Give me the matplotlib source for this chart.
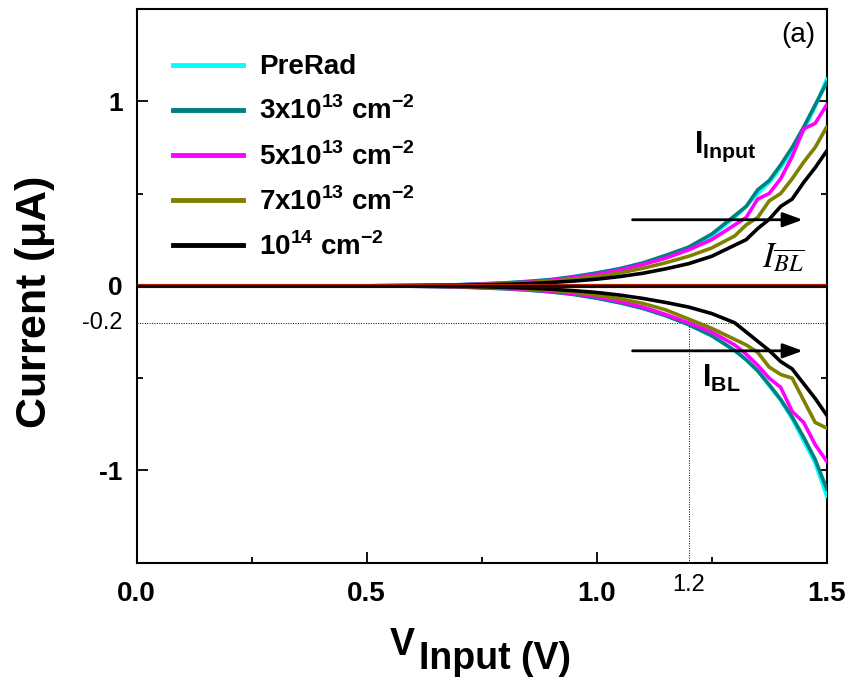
import matplotlib
matplotlib.use("Agg")
import matplotlib.pyplot as plt
from matplotlib.ticker import MultipleLocator

V = [0.0, 0.5, 0.6, 0.7, 0.75, 0.8, 0.85, 0.9, 0.95, 1.0, 1.05, 1.1, 1.15, 1.2,
     1.25, 1.3, 1.325, 1.35, 1.375, 1.4, 1.425, 1.45, 1.475, 1.5]

labels = ["PreRad", r"3x10$^{\mathbf{13}}$ cm$^{\mathbf{-2}}$", r"5x10$^{\mathbf{13}}$ cm$^{\mathbf{-2}}$",
          r"7x10$^{\mathbf{13}}$ cm$^{\mathbf{-2}}$", r"10$^{\mathbf{14}}$ cm$^{\mathbf{-2}}$"]
colors = ["#00ffff", "#008080", "#ff00ff", "#808000", "#000000"]

xticks = [0.0, 0.5, 1.0, 1.5]
xtick_labels = ['0.0', '0.5', '1.0', '1.5']
yticks = [-1, 0, 1]
ytick_labels = ['-1', '0', '1']

# I_Input (positive branch)
in_prerad = [0, 0, 0.002, 0.006, 0.010, 0.015, 0.022, 0.032, 0.048, 0.068, 0.090, 0.120, 0.160, 0.205,
             0.27, 0.37, 0.43, 0.50, 0.56, 0.64, 0.73, 0.84, 0.97, 1.12]
in_3e13 = [0, 0, 0.002, 0.006, 0.011, 0.016, 0.024, 0.034, 0.050, 0.070, 0.093, 0.124, 0.165, 0.21,
           0.28, 0.38, 0.43, 0.52, 0.57, 0.655, 0.75, 0.86, 0.98, 1.10]
in_5e13 = [0, 0, 0.002, 0.005, 0.009, 0.014, 0.020, 0.030, 0.044, 0.062, 0.085, 0.115, 0.150, 0.195,
           0.25, 0.33, 0.37, 0.47, 0.50, 0.58, 0.70, 0.85, 0.88, 0.98]
in_7e13 = [0, 0, 0.001, 0.004, 0.007, 0.011, 0.017, 0.025, 0.036, 0.050, 0.070, 0.095, 0.125, 0.16,
           0.205, 0.27, 0.33, 0.37, 0.46, 0.50, 0.58, 0.67, 0.75, 0.86]
in_1e14 = [0, 0, 0.001, 0.003, 0.005, 0.008, 0.012, 0.018, 0.026, 0.036, 0.050, 0.068, 0.092, 0.12,
           0.16, 0.22, 0.25, 0.31, 0.36, 0.43, 0.47, 0.56, 0.64, 0.73]

# I_BL (negative branch)
bl_prerad = [0, 0, -0.002, -0.006, -0.010, -0.015, -0.022, -0.032, -0.045, -0.065, -0.090, -0.120, -0.160, -0.21,
             -0.27, -0.35, -0.40, -0.46, -0.54, -0.62, -0.72, -0.84, -0.96, -1.14]
bl_3e13 = [0, 0, -0.002, -0.006, -0.011, -0.016, -0.023, -0.033, -0.047, -0.067, -0.092, -0.122, -0.162, -0.21,
           -0.27, -0.35, -0.40, -0.46, -0.535, -0.615, -0.71, -0.82, -0.94, -1.10]
bl_5e13 = [0, 0, -0.002, -0.005, -0.009, -0.014, -0.020, -0.030, -0.043, -0.060, -0.085, -0.115, -0.155, -0.20,
           -0.25, -0.32, -0.37, -0.43, -0.50, -0.55, -0.68, -0.74, -0.86, -0.95]
bl_7e13 = [0, 0, -0.001, -0.004, -0.007, -0.011, -0.016, -0.024, -0.035, -0.050, -0.070, -0.095, -0.130, -0.18,
           -0.23, -0.29, -0.32, -0.36, -0.44, -0.48, -0.50, -0.62, -0.74, -0.77]
bl_1e14 = [0, 0, -0.001, -0.003, -0.005, -0.008, -0.012, -0.018, -0.026, -0.036, -0.050, -0.068, -0.090, -0.115,
           -0.15, -0.20, -0.25, -0.30, -0.35, -0.41, -0.45, -0.53, -0.61, -0.70]

ibl_bar = [0.0] * len(V)

inputs = [in_prerad, in_3e13, in_5e13, in_7e13, in_1e14]
bls = [bl_prerad, bl_3e13, bl_5e13, bl_7e13, bl_1e14]

plt.rcParams['font.family'] = ['Liberation Sans', 'DejaVu Sans']
plt.rcParams['mathtext.fontset'] = 'custom'
plt.rcParams['mathtext.rm'] = 'Liberation Sans:bold'
plt.rcParams['mathtext.bf'] = 'Liberation Sans:bold'

fig = plt.figure(figsize=(8.54, 6.83), dpi=100)
ax = fig.add_axes([0.160, 0.176, 0.808, 0.811])

for y_in, y_bl, c, lab in zip(inputs, bls, colors, labels):
    ax.plot(V, y_in, color=c, lw=2.6, label=lab, zorder=3)
    ax.plot(V, y_bl, color=c, lw=2.6, zorder=3)

ax.plot(V, ibl_bar, color="#b02000", lw=3.0, zorder=4)
ax.plot(V, ibl_bar, color="#1a0500", lw=2.0, zorder=5)

# dotted guides
ax.plot([0, 1.5], [-0.2, -0.2], color='black', lw=0.7, ls=(0, (1, 1.5)), zorder=2)
ax.plot([1.2, 1.2], [-1.5, -0.2], color='black', lw=0.7, ls=(0, (1, 1.5)), zorder=2)

ax.set_xlim(0, 1.5)
ax.set_ylim(-1.5, 1.5)

ax.set_xticks(xticks)
ax.set_xticklabels(xtick_labels, fontsize=20, fontweight='bold')
ax.set_yticks(yticks)
ax.set_yticklabels(ytick_labels, fontsize=19, fontweight='bold')
ax.xaxis.set_minor_locator(MultipleLocator(0.25))
ax.yaxis.set_minor_locator(MultipleLocator(0.5))
ax.tick_params(which='both', direction='in', right=True, top=False, width=1.3)
ax.tick_params(which='major', length=8)
ax.tick_params(which='minor', length=4)
ax.tick_params(axis='x', which='major', pad=13)
ax.tick_params(axis='y', which='major', pad=10)
for s in ax.spines.values():
    s.set_linewidth(1.5)

ax.text(-0.021, -0.2, '-0.2', transform=ax.get_yaxis_transform(), ha='right', va='center', fontsize=17)
ax.text(1.2 - 0.035, -0.02, '1.2', transform=ax.get_xaxis_transform(), ha='left', va='top', fontsize=17)

ax.set_ylabel(r'Current ($\mathbf{\mu}$A)', fontsize=31, fontweight='bold')
ax.yaxis.set_label_coords(-0.115, 0.47)

# x label: "V" with same-size lowered "Input", then "(V)"
fig.text(390 / 854, 1 - 655 / 683, 'V', fontsize=27, fontweight='bold', ha='left', va='baseline')
fig.text(419 / 854, 1 - 669 / 683, 'Input (V)', fontsize=27, fontweight='bold', ha='left', va='baseline')

# arrows
arrow_style = '-|>,head_length=0.6,head_width=0.22'
ax.annotate('', xy=(1.448, 0.358), xytext=(1.078, 0.358),
            arrowprops=dict(arrowstyle=arrow_style, color='black', lw=2.0, mutation_scale=20,
                            shrinkA=0, shrinkB=0), zorder=6)
ax.annotate('', xy=(1.448, -0.352), xytext=(1.078, -0.352),
            arrowprops=dict(arrowstyle=arrow_style, color='black', lw=2.0, mutation_scale=20,
                            shrinkA=0, shrinkB=0), zorder=6)

ax.text(1.211, 0.72, r'I$_{\mathbf{Input}}$', fontsize=22, fontweight='bold', va='baseline')
ax.text(1.23, -0.547, r'I$_{\mathbf{BL}}$', fontsize=22, fontweight='bold', va='baseline')
ax.text(1.36, 0.103, r'$I_{\overline{BL}}$', fontsize=25, math_fontfamily='stix', va='baseline')
ax.text(0.983, 0.977, '(a)', transform=ax.transAxes, ha='right', va='top', fontsize=20)

leg = ax.legend(loc='upper left', bbox_to_anchor=(0.053, 0.918), frameon=False,
                prop=dict(size=20, weight='bold'), borderaxespad=0, borderpad=0,
                handlelength=2.5, labelspacing=0.6, handletextpad=0.6)
for h in leg.get_lines():
    h.set_linewidth(3.5)

fig.savefig('out.png', dpi=100)
